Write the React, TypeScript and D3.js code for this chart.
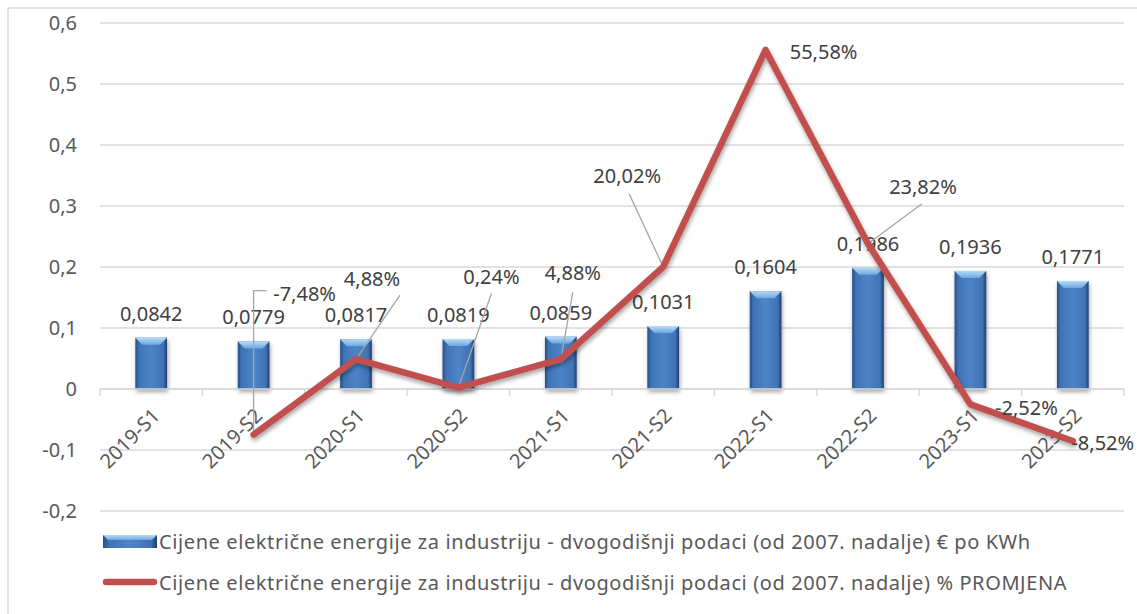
import React, { useRef, useEffect } from 'react';
import * as d3 from 'd3';

const categories = ['2019-S1', '2019-S2', '2020-S1', '2020-S2', '2021-S1', '2021-S2', '2022-S1', '2022-S2', '2023-S1', '2023-S2'];
const priceValues = [0.0842, 0.0779, 0.0817, 0.0819, 0.0859, 0.1031, 0.1604, 0.1986, 0.1936, 0.1771];
const changeValues: (number | null)[] = [null, -0.0748, 0.0488, 0.0024, 0.0488, 0.2002, 0.5558, 0.2382, -0.0252, -0.0852];
const yTicks = [-0.2, -0.1, 0, 0.1, 0.2, 0.3, 0.4, 0.5, 0.6];
const seriesNames = [
  'Cijene električne energije za industriju - dvogodišnji podaci (od 2007. nadalje) € po KWh',
  'Cijene električne energije za industriju - dvogodišnji podaci (od 2007. nadalje) % PROMJENA',
];

// label placement for the % series: offset of label centre/baseline from the point, and leader end
const changeLabelPos = [
  null,
  { dx: 51, dy: -134, leader: 'elbow' },
  { dx: 16, dy: -73, lx: 44, ly: -64 },
  { dx: 33, dy: -104, lx: 33, ly: -94 },
  { dx: 12, dy: -79, lx: 12, ly: -67 },
  { dx: -36, dy: -84, lx: -34, ly: -73 },
  { dx: 58, dy: 9 },
  { dx: 55, dy: -50, lx: 54, ly: -40 },
  { dx: 56, dy: 11 },
  { dx: 30, dy: 9 },
];

const fmt = (v: number, d: number) => v.toFixed(d).replace('.', ',');

const App = () => {
  const svgRef = useRef<SVGSVGElement>(null);

  useEffect(() => {
    const width = 1137;
    const height = 614;
    const margin = { top: 23, right: 12, bottom: 103, left: 100 };
    const svg = d3.select(svgRef.current);
    svg.selectAll('*').remove();
    const font = "'Noto Sans', 'Open Sans', sans-serif";

    const defs = svg.append('defs');
    const barGrad = defs.append('linearGradient').attr('id', 'bar-grad').attr('x1', '0%').attr('x2', '100%');
    barGrad.append('stop').attr('offset', '0%').attr('stop-color', '#284f86');
    barGrad.append('stop').attr('offset', '12%').attr('stop-color', '#3f73b5');
    barGrad.append('stop').attr('offset', '50%').attr('stop-color', '#4d85c9');
    barGrad.append('stop').attr('offset', '88%').attr('stop-color', '#3f73b5');
    barGrad.append('stop').attr('offset', '100%').attr('stop-color', '#1f3f6e');
    const topGrad = defs.append('linearGradient').attr('id', 'bar-top').attr('x1', '0%').attr('x2', '0%').attr('y1', '0%').attr('y2', '100%');
    topGrad.append('stop').attr('offset', '0%').attr('stop-color', '#b6dcf7');
    topGrad.append('stop').attr('offset', '100%').attr('stop-color', '#6ea6de');
    const shadow = defs.append('filter').attr('id', 'shadow').attr('x', '-20%').attr('y', '-20%').attr('width', '140%').attr('height', '140%');
    shadow.append('feDropShadow').attr('dx', 1).attr('dy', 3).attr('stdDeviation', 2).attr('flood-color', '#000').attr('flood-opacity', 0.35);

    // chart border (top/left visible)
    svg.append('path').attr('d', `M8,${height} V8 H${width}`).attr('fill', 'none').attr('stroke', '#d9d9d9').attr('stroke-width', 1.5);

    const x = d3.scaleBand().domain(categories).range([margin.left, width - margin.right - 1]).paddingInner(0).paddingOuter(0);
    const y = d3.scaleLinear().domain([-0.2, 0.6]).range([height - margin.bottom, margin.top]);
    const bw = x.bandwidth();
    const barW = bw * 0.31;
    const cx = (c: string) => (x(c) as number) + bw / 2;

    // gridlines
    svg.append('g').selectAll('line').data(yTicks).enter().append('line')
      .attr('x1', margin.left).attr('x2', width - margin.right - 1)
      .attr('y1', d => y(d)).attr('y2', d => y(d))
      .attr('stroke', '#d9d9d9').attr('stroke-width', 1.3);

    // y axis labels
    svg.append('g').selectAll('text').data(yTicks).enter().append('text')
      .attr('x', 77).attr('y', d => y(d)).attr('dy', '0.35em')
      .attr('text-anchor', 'end').attr('font-family', font).attr('font-size', 20).attr('fill', '#595959')
      .text(d => fmt(d, d === 0 ? 0 : 1));

    // bars
    const bars = svg.append('g').selectAll('g').data(categories).enter().append('g').attr('filter', 'url(#shadow)');
    bars.append('rect')
      .attr('x', c => cx(c) - barW / 2).attr('width', barW)
      .attr('y', (c, i) => y(priceValues[i])).attr('height', (c, i) => y(0) - y(priceValues[i]))
      .attr('fill', 'url(#bar-grad)');
    bars.append('path')
      .attr('d', (c, i) => {
        const l = cx(c) - barW / 2, r = cx(c) + barW / 2, t = y(priceValues[i]), b = 7;
        return `M${l},${t} H${r} L${r - b},${t + b} H${l + b} Z`;
      })
      .attr('fill', 'url(#bar-top)');

    // x axis
    svg.append('line').attr('x1', margin.left).attr('x2', width - margin.right - 1).attr('y1', y(0)).attr('y2', y(0))
      .attr('stroke', '#d9d9d9').attr('stroke-width', 1.5);
    svg.append('g').selectAll('line').data(categories.concat(['end'])).enter().append('line')
      .attr('x1', (c, i) => margin.left + i * bw).attr('x2', (c, i) => margin.left + i * bw)
      .attr('y1', y(0)).attr('y2', y(0) + 7).attr('stroke', '#d9d9d9').attr('stroke-width', 1.5);
    svg.append('g').selectAll('text').data(categories).enter().append('text')
      .attr('transform', c => `translate(${cx(c) + 5},${y(0) + 23}) rotate(-45)`)
      .attr('text-anchor', 'end').attr('dy', '0.35em')
      .attr('font-family', font).attr('font-size', 20).attr('fill', '#595959')
      .text(c => c);

    // bar labels
    svg.append('g').selectAll('text').data(categories).enter().append('text')
      .attr('x', c => cx(c)).attr('y', (c, i) => y(priceValues[i]) - 17)
      .attr('text-anchor', 'middle').attr('font-family', font).attr('font-size', 20).attr('fill', '#404040')
      .text((c, i) => fmt(priceValues[i], 4));

    // line
    const pts = categories.map((c, i) => ({ c, v: changeValues[i], i })).filter(d => d.v !== null) as { c: string; v: number; i: number }[];
    const line = d3.line<{ c: string; v: number }>().x(d => cx(d.c)).y(d => y(d.v));

    // leader lines
    const leaders = svg.append('g').attr('stroke', '#a6a6a6').attr('stroke-width', 1.3).attr('fill', 'none');
    pts.forEach(d => {
      const p = changeLabelPos[d.i] as any;
      if (!p) return;
      const px = cx(d.c), py = y(d.v);
      if (p.leader === 'elbow') {
        leaders.append('path').attr('d', `M${px},${py} V${py + p.dy - 10} H${px + 13}`);
      } else if (p.lx !== undefined) {
        leaders.append('line').attr('x1', px).attr('y1', py).attr('x2', px + p.lx).attr('y2', py + p.ly);
      }
    });

    svg.append('path').datum(pts).attr('d', line)
      .attr('fill', 'none').attr('stroke', '#c0504d').attr('stroke-width', 6.5)
      .attr('stroke-linejoin', 'round').attr('stroke-linecap', 'round').attr('filter', 'url(#shadow)');

    // line labels
    svg.append('g').selectAll('text').data(pts).enter().append('text')
      .attr('x', d => cx(d.c) + (changeLabelPos[d.i] as any).dx)
      .attr('y', d => y(d.v) + (changeLabelPos[d.i] as any).dy)
      .attr('text-anchor', 'middle').attr('font-family', font).attr('font-size', 20).attr('fill', '#404040')
      .text(d => fmt(d.v * 100, 2) + '%');

    // legend
    const lg = svg.append('g');
    lg.append('rect').attr('x', 103).attr('y', 535).attr('width', 54).attr('height', 13).attr('fill', 'url(#bar-grad)');
    lg.append('path').attr('d', 'M103,535 H157 L152,540 H108 Z').attr('fill', 'url(#bar-top)');
    lg.append('line').attr('x1', 106).attr('x2', 154).attr('y1', 582).attr('y2', 582)
      .attr('stroke', '#c0504d').attr('stroke-width', 6.5).attr('stroke-linecap', 'round');
    lg.selectAll('text').data(seriesNames).enter().append('text')
      .attr('x', 159).attr('y', (d, i) => 542 + i * 41).attr('dy', '0.35em')
      .attr('font-family', font).attr('font-size', 20).attr('letter-spacing', 0.6).attr('fill', '#595959')
      .text(d => d);
  }, []);

  return (
    <svg ref={svgRef} width={1137} height={614}
      style={{ position: 'absolute', left: 0, top: 0, background: '#fff', display: 'block' }} />
  );
};

export default App;
